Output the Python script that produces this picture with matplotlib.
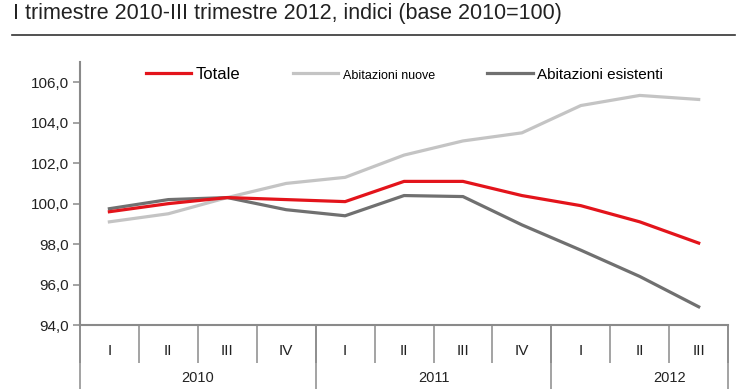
import matplotlib
matplotlib.use("Agg")
import matplotlib.pyplot as plt
import numpy as np

plt.rcParams['font.family'] = ['Liberation Sans', 'DejaVu Sans']

# data
quarters = ['I', 'II', 'III', 'IV', 'I', 'II', 'III', 'IV', 'I', 'II', 'III']
years = ['2010', '2011', '2012']
totale = [99.6, 100.0, 100.3, 100.2, 100.1, 101.1, 101.1, 100.4, 99.9, 99.1, 98.05]
nuove = [99.1, 99.5, 100.3, 101.0, 101.3, 102.4, 103.1, 103.5, 104.85, 105.35, 105.15]
esistenti = [99.75, 100.2, 100.3, 99.7, 99.4, 100.4, 100.35, 98.95, 97.7, 96.4, 94.9]

axcol = '#8a8a8a'
x = np.arange(len(quarters))

fig = plt.figure(figsize=(7.4, 3.89), dpi=100)
ax = fig.add_axes([0.108, 0.1645, 0.876, 0.676])

ax.plot(x, totale, color='#e3141b', lw=2.3, label='Totale', zorder=4)
ax.plot(x, nuove, color='#c4c4c4', lw=2.3, label='Abitazioni nuove', zorder=3)
ax.plot(x, esistenti, color='#707070', lw=2.3, label='Abitazioni esistenti', zorder=3)

ax.set_xlim(-0.5, len(quarters) - 0.5)
ax.set_ylim(94, 107)
yt = np.arange(94, 107, 2)
ax.set_yticks(yt)
ax.set_yticklabels([('%.1f' % v).replace('.', ',') for v in yt], fontsize=11, color='#222222')
ax.tick_params(axis='y', length=5, width=1.1, color=axcol, pad=3)

for s in ['top', 'right']:
    ax.spines[s].set_visible(False)
for s in ['left', 'bottom']:
    ax.spines[s].set_color(axcol)
    ax.spines[s].set_linewidth(1.5)

# quarter labels, separators below the axis
ax.set_xticks(x)
ax.set_xticklabels(quarters, fontsize=11, color='#222222')
ax.tick_params(axis='x', length=0, pad=14)
ax.set_xticks(np.arange(-0.5, len(quarters)), minor=True)
ax.tick_params(axis='x', which='minor', length=27, width=1.1, color=axcol, direction='out')

# year separators and labels
trans = ax.get_xaxis_transform()
for b in [-0.5, 3.5, 7.5, 10.5]:
    ax.plot([b, b], [0, -0.4], transform=trans, color=axcol, lw=1.1, clip_on=False)
for i, yr in enumerate(years):
    ax.text(1.5 + 4 * i, -0.175, yr, transform=trans, ha='center', va='top',
            fontsize=10.5, color='#222222')

leg = ax.legend(loc='upper left', bbox_to_anchor=(0.08, 1.035), ncol=3, frameon=False,
                fontsize=11, handlelength=3.0, handletextpad=0.3, columnspacing=3.4)
leg.get_texts()[0].set_fontsize(12)
leg.get_texts()[1].set_fontsize(9)

fig.text(0.017, 0.965, 'I trimestre 2010-III trimestre 2012, indici (base 2010=100)',
         fontsize=15.5, color='#222222', va='center', ha='left')
fig.add_artist(plt.Line2D([0.016, 0.993], [0.91, 0.91], color='#333333', lw=1.2))

fig.savefig('out.png', dpi=100)
